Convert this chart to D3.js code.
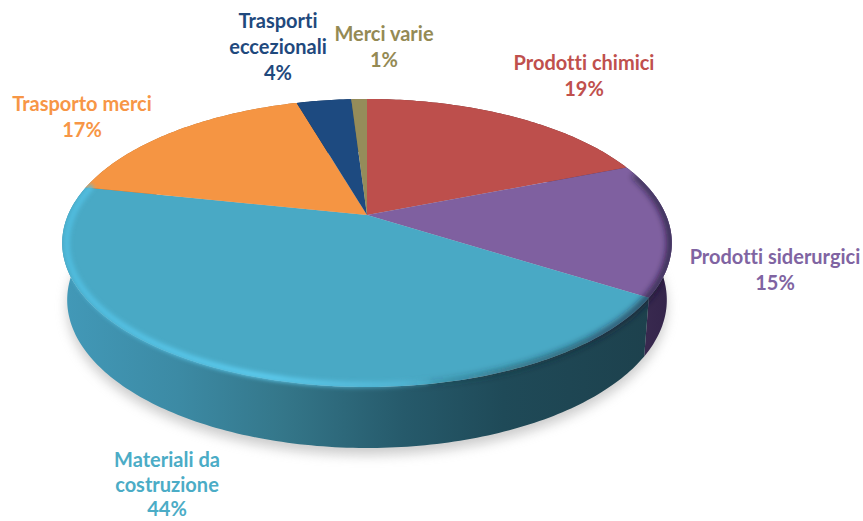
<!DOCTYPE html>
<html><head><meta charset="utf-8">
<script src="https://cdn.jsdelivr.net/npm/d3@7"></script>
<style>html,body{margin:0;padding:0;background:#fff}svg{display:block}text{font-family:Lato,"Open Sans",sans-serif;font-weight:700;font-variant-ligatures:none}</style>
</head><body>
<svg id="c" width="863" height="521"></svg>
<script>
const categories = ["Prodotti chimici","Prodotti siderurgici","Materiali da costruzione","Trasporto merci","Trasporti eccezionali","Merci varie"];
const values = [19,15,44.3,17.2,3.5,1];
const shownPercent = ["19%","15%","44%","17%","4%","1%"];

const topColors = ["#bd4f4c","#7f60a0","#49a9c5","#f59543","#1d4a80","#958c5a"];
const textColors = ["#c0504d","#8064a2","#4bacc6","#f79646","#1f497d","#948a54"];
const wallColors = ["#6e2e2c","url(#wallPurple)","url(#wallTeal)","#b06a2c","#12305a","#6a6340"];
const labelLines = [["Prodotti chimici"],["Prodotti siderurgici"],["Materiali da","costruzione"],["Trasporto merci"],["Trasporti","eccezionali"],["Merci varie"]];
const labelAt = [[584,70,26],[775,264,26],[167,467,24.7],[82,111,26],[278,28,26],[384,41,26]];

// perspective disc: apex at (367,215), far rim y=99, near rim y=387
const CX=367, APEX=215, A=96.75, C=-0.1944, R=299;
const topRim = a => { const u=Math.sin(a), v=-Math.cos(a), d=1+C*v; return [CX+R*u/d,(APEX+A*v)/d]; };
const lowX = d3.scaleLinear().domain([62,672]).range([67,667]);
const lowY = d3.scaleLinear().domain([99,387]).range([152,448]);
const lowRim = a => { const p=topRim(a); return [lowX(p[0]),lowY(p[1])]; };
const line = d3.line().curve(d3.curveLinear);
const steps = (a0,a1) => { const n=Math.max(2,Math.ceil(Math.abs(a1-a0)*60)); return d3.range(n+1).map(i=>a0+(a1-a0)*i/n); };

const svg = d3.select("#c");
const defs = svg.append("defs");
const blur=(id,s)=>defs.append("filter").attr("id",id).attr("x","-10%").attr("y","-10%").attr("width","120%").attr("height","120%").append("feGaussianBlur").attr("stdDeviation",s);
blur("b8",6); blur("b3",3.2); blur("b2",2.2);
const grad=(id,x1,x2,stops)=>{const g=defs.append("linearGradient").attr("id",id).attr("gradientUnits","userSpaceOnUse").attr("x1",x1).attr("x2",x2).attr("y1",0).attr("y2",0);
 stops.forEach(s=>g.append("stop").attr("offset",s[0]).attr("stop-color",s[1]).attr("stop-opacity",s[2]===undefined?1:s[2]));};
grad("wallTeal",62,650,[[0,"#4299b8"],[0.2,"#3c8aa4"],[0.38,"#347689"],[0.58,"#265a6b"],[0.75,"#1f4a58"],[1,"#1d414d"]]);
grad("wallPurple",640,672,[[0,"#3a2a50"],[1,"#33244a"]]);
grad("rimLight",62,470,[[0,"#50bcde"],[0.5,"#5ccbee"],[0.8,"#5cc6e8",0.5],[1,"#5cc6e8",0]]);
grad("rimDark",400,672,[[0,"#123038",0],[0.4,"#123038",0.5],[0.85,"#1a1a30",0.7],[1,"#1a1030",0.85]]);

const arcs = d3.pie().sort(null).value(d=>d)(values);
const circle = steps(0,2*Math.PI);

// silhouette: top disc plus lower disc, keeps the soft rim shading on the solid
const clip = defs.append("clipPath").attr("id","solid");
clip.append("path").attr("d",line(circle.map(topRim))+"Z");
clip.append("path").attr("d",line(circle.map(lowRim))+"Z");

// ground shadow
svg.append("path").attr("d",line(circle.map(lowRim))+"Z")
  .attr("transform","translate(0,7)").attr("fill","#9a9a9a").attr("opacity",.5).attr("filter","url(#b8)");

// walls
svg.append("g").selectAll("path").data(arcs).join("path")
  .attr("d",d=>{const s=steps(d.startAngle,d.endAngle);return line([...s.map(topRim),...s.slice().reverse().map(lowRim)])+"Z";})
  .attr("fill",(d,i)=>wallColors[i]);

// top faces
const apex=[CX,APEX];
svg.append("g").selectAll("path").data(arcs).join("path")
  .attr("d",d=>line([apex,...steps(d.startAngle,d.endAngle).map(topRim)])+"Z")
  .attr("fill",(d,i)=>topColors[i]);

// bevel: soft rim shading along the near edge
const rad=f=>f*Math.PI/180;
const rimIn=k=>a=>{const p=topRim(a);return [CX+(p[0]-CX)*k,243+(p[1]-243)*k];};
const bevel=svg.append("g").attr("clip-path","url(#solid)");
bevel.append("path").attr("d",line(steps(rad(72),rad(195)).map(rimIn(0.995))))
  .attr("fill","none").attr("stroke","url(#rimDark)").attr("stroke-width",6).attr("filter","url(#b3)");
bevel.append("path").attr("d",line(steps(rad(170),rad(283)).map(rimIn(0.985))))
  .attr("fill","none").attr("stroke","url(#rimLight)").attr("stroke-width",6).attr("filter","url(#b2)");

// labels
const lab=svg.append("g").attr("text-anchor","middle").attr("font-size",20);
categories.forEach((c,i)=>{
  const g=lab.append("text").attr("fill",textColors[i]);
  [...labelLines[i],shownPercent[i]].forEach((t,k)=>g.append("tspan").attr("x",labelAt[i][0]).attr("y",labelAt[i][1]+k*labelAt[i][2]).text(t));
});
</script>
</body></html>
